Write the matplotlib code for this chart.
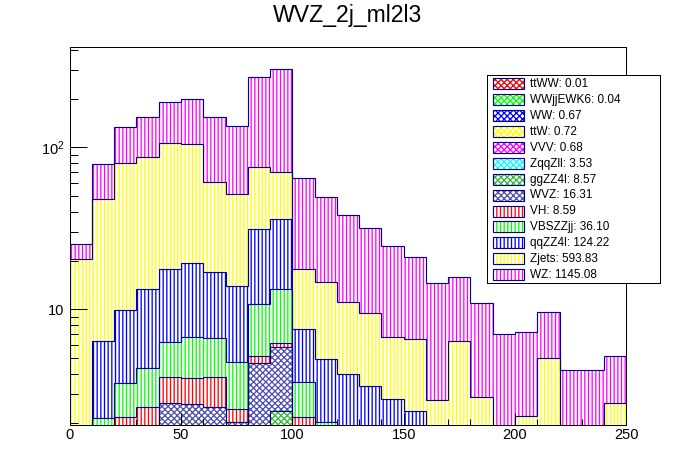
import numpy as np
import matplotlib
matplotlib.use('Agg')
import matplotlib.pyplot as plt
from matplotlib.patches import Rectangle

plt.rcParams['font.family'] = ['Liberation Sans', 'DejaVu Sans']
plt.rcParams['mathtext.fontset'] = 'custom'
plt.rcParams['mathtext.rm'] = 'Liberation Sans'
plt.rcParams['mathtext.it'] = 'Liberation Sans:italic'
plt.rcParams['hatch.linewidth'] = 0.85

# bins de 10 em 10, de 0 a 250
bordas = np.arange(0, 260, 10)

# conteudo de cada amostra por bin (ordem do empilhamento: de baixo para cima)
ttWW = [0, 0, 0, 0, 0, 0.002, 0.002, 0.002, 0.002, 0.002, 0, 0, 0, 0, 0, 0, 0, 0, 0, 0, 0, 0, 0, 0, 0]
WWjjEWK6 = [0, 0, 0, 0, 0, 0, 0.01, 0.01, 0.01, 0.01, 0, 0, 0, 0, 0, 0, 0, 0, 0, 0, 0, 0, 0, 0, 0]
WW = [0, 0, 0.02, 0.04, 0.06, 0.07, 0.08, 0.08, 0.09, 0.08, 0.06, 0.04, 0.03, 0.02, 0, 0, 0, 0, 0, 0, 0, 0, 0, 0, 0]
ttW = [0, 0.01, 0.02, 0.04, 0.06, 0.07, 0.08, 0.08, 0.09, 0.09, 0.07, 0.05, 0.03, 0.02, 0.01, 0, 0, 0, 0, 0, 0, 0, 0, 0, 0]
VVV = [0, 0, 0.02, 0.03, 0.05, 0.06, 0.07, 0.08, 0.09, 0.08, 0.06, 0.05, 0.04, 0.03, 0.02, 0, 0, 0, 0, 0, 0, 0, 0, 0, 0]
ZqqZll = [0.05, 0.1, 0.15, 0.2, 0.25, 0.3, 0.3, 0.3, 0.35, 0.3, 0.3, 0.25, 0.2, 0.15, 0.1, 0.08, 0.05, 0.05, 0.03, 0.02, 0, 0, 0, 0, 0]
ggZZ4l = [0.05, 0.15, 0.30, 0.45, 0.60, 0.65, 0.65, 0.60, 0.80, 1.79, 0.80, 0.50, 0.40, 0.30, 0.25, 0.10, 0.05, 0.03, 0.02, 0.02, 0.01, 0.01, 0.01, 0.01, 0.01]
WVZ = [0.10, 0.24, 0.49, 1.09, 1.61, 1.44, 1.29, 0.86, 3.21, 3.54, 0.56, 0.41, 0.30, 0.23, 0.17, 0.15, 0.10, 0.08, 0.06, 0.05, 0.04, 0.03, 0.02, 0.02, 0.02]
VH = [0.10, 0.40, 1.17, 0.65, 1.21, 1.16, 1.36, 0.42, 0.51, 0.33, 0.32, 0.30, 0.20, 0.15, 0.10, 0.10, 0.05, 0.05, 0.04, 0.03, 0.03, 0.02, 0.02, 0.02, 0.02]
VBSZZjj = [0.30, 1.25, 1.36, 1.86, 2.47, 2.97, 2.78, 2.32, 5.65, 7.18, 1.40, 0.41, 0.50, 0.40, 0.35, 0.30, 0.20, 0.15, 0.10, 0.08, 0.08, 0.05, 0.04, 0.04, 0.04]
qqZZ4l = [1.30, 4.26, 6.33, 8.94, 11.39, 12.48, 10.28, 9.25, 20.7, 22.5, 3.96, 2.93, 2.27, 2.08, 1.78, 1.64, 1.05, 0.84, 0.75, 0.40, 0.34, 0.29, 0.21, 0.21, 0.21]
Zjets = [18.7, 41.8, 70.5, 73.4, 88.1, 85.2, 44.5, 37.3, 44.5, 34.9, 10.2, 9.75, 7.18, 6.07, 3.94, 4.22, 1.26, 5.21, 1.86, 0.9, 1.71, 4.63, 0, 0, 2.33]
WZ = [4.9, 30.3, 52.4, 66.3, 83.9, 93.3, 93.1, 84.9, 194, 232.2, 46.7, 34.8, 27.35, 22.15, 17.98, 14.51, 11.84, 9.39, 8.14, 5.51, 5.07, 4.64, 3.92, 3.92, 2.55]

amostras = ['ttWW', 'WWjjEWK6', 'WW', 'ttW', 'VVV', 'ZqqZll', 'ggZZ4l', 'WVZ',
            'VH', 'VBSZZjj', 'qqZZ4l', 'Zjets', 'WZ']
valores = [ttWW, WWjjEWK6, WW, ttW, VVV, ZqqZll, ggZZ4l, WVZ, VH, VBSZZjj, qqZZ4l, Zjets, WZ]
# totais mostrados na legenda
totais = ['0.01', '0.04', '0.67', '0.72', '0.68', '3.53', '8.57', '16.31',
          '8.59', '36.10', '124.22', '593.83', '1145.08']

cores = ['#ff0000', '#00ff00', '#0000ff', '#ffff00', '#ff00ff', '#00ffff', '#33bb33', '#5050b0',
         '#ff0000', '#00ff00', '#0000ff', '#ffff00', '#ff00ff']
hachuras = ['xxxxxx'] * 8 + ['|||||'] * 5
cor_linha = '#000099'

fig = plt.figure(figsize=(696 / 110, 472 / 110), dpi=110)
ax = fig.add_axes([0.1, 0.1, 0.8, 0.8])
ax.set_yscale('log')

# preenchimentos empilhados
base = np.zeros(len(bordas) - 1)
cumulativos = []
for vals, cor, hach in zip(valores, cores, hachuras):
    vals = np.array(vals)
    ax.bar(bordas[:-1], vals, width=10, bottom=base, align='edge',
           facecolor='white', edgecolor=cor, hatch=hach, linewidth=0)
    base = base + vals
    cumulativos.append(base.copy())

# contornos de cada histograma acumulado
for cum in cumulativos:
    ax.stairs(np.clip(cum, 1e-3, None), bordas, baseline=None, color=cor_linha, lw=0.75)

ax.set_xlim(0, 250)
ax.set_ylim(1.94, 415)
ax.set_xticks(np.arange(0, 251, 50))
ax.set_xticks(np.arange(0, 251, 10), minor=True)
ax.set_yticks([10, 100], labels=['10', r'$10^{2}$'])
ax.set_yticks([2, 3, 4, 5, 6, 7, 8, 9, 20, 30, 40, 50, 60, 70, 80, 90, 200, 300, 400], minor=True)
ax.yaxis.set_minor_formatter(matplotlib.ticker.NullFormatter())

ax.tick_params(axis='both', which='both', direction='in', width=0.65, top=False, right=False)
ax.tick_params(axis='x', which='major', length=7.6, labelsize=9.6, pad=2.1)
ax.tick_params(axis='x', which='minor', length=3.7)
ax.tick_params(axis='y', which='major', length=10.9, labelsize=9.6, pad=3.3)
ax.tick_params(axis='y', which='minor', length=5.5)
for s in ax.spines.values():
    s.set_linewidth(0.65)

fig.text(0.5, 1 - 21.7 / 472, 'WVZ_2j_ml2l3', ha='center', va='baseline', fontsize=15.1)

# legenda desenhada a mao, em pixels
leg = fig.add_axes([487 / 696, 1 - 283 / 472, 173 / 696, 208 / 472])
leg.set_xlim(0, 173)
leg.set_ylim(208, 0)
leg.set_xticks([])
leg.set_yticks([])
for s in leg.spines.values():
    s.set_linewidth(0.65)
for i, (nome, tot, cor, hach) in enumerate(zip(amostras, totais, cores, hachuras)):
    cy = 8.8 + i * 15.9
    leg.add_patch(Rectangle((6.3, cy - 5.5), 31, 11, facecolor='white', edgecolor=cor,
                            hatch=hach, linewidth=0))
    leg.add_patch(Rectangle((6.3, cy - 5.5), 31, 11, fill=False, edgecolor=cor_linha, linewidth=0.75))
    leg.text(43, cy + 0.3, nome + ': ' + tot, va='center', ha='left', fontsize=7.7)

fig.savefig('out.png', dpi=110)
